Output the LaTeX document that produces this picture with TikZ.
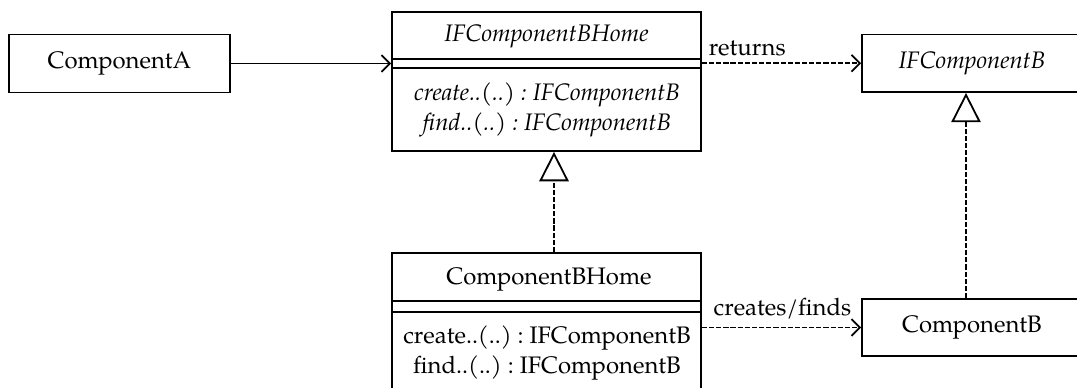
\documentclass[tikz,border=0pt]{standalone}
\usepackage{fontspec}
\setmainfont{TeX Gyre Pagella}
\usetikzlibrary{arrows.meta,calc}
\frenchspacing

\tikzset{
  box/.style={draw, line width=0.7pt, rectangle, inner sep=0pt},
  divider/.style={line width=0.7pt},
  label/.style={font=\fontsize{9.2}{11.4}\selectfont, inner sep=0pt},
  ops/.style={font=\fontsize{9.2}{11.4}\selectfont, align=center, inner sep=0pt},
  assoc/.style={line width=0.7pt, -{Straight Barb[length=3.2pt,width=6.5pt]}},
  dep/.style={assoc, dash pattern=on 2pt off 0.75pt},
  realize/.style={line width=0.7pt, dash pattern=on 2pt off 0.75pt,
    -{Triangle[open,length=11.3pt,width=11.3pt,fill=white]}},
}

\begin{document}
\begin{tikzpicture}[x=0.385pt, y=-0.385pt]
  \useasboundingbox (0,0) rectangle (1077,387);
  \clip (0,0) rectangle (1077,387);

  % plain classes
  \node[box, minimum width=85.09pt, minimum height=22.33pt, label] (compA) at (119.5,63.5) {ComponentA};
  \node[box, minimum width=84.7pt, minimum height=22.1pt, label] (ifb) at (972,63.25) {\itshape IFComponentB};
  \node[box, minimum width=84.7pt, minimum height=21.9pt, label] (compB) at (972,327.5) {ComponentB};

  % interface IFComponentBHome: name / attributes / operations
  \node[box, minimum width=118.97pt, minimum height=53.5pt] (home) at (546.5,81.5) {};
  \draw[divider] ($(home.north west)+(0,48)$) -- ($(home.north east)+(0,48)$);
  \draw[divider] ($(home.north west)+(0,57)$) -- ($(home.north east)+(0,57)$);
  \node[label] (homename) at (546.5,36) {\itshape IFComponentBHome};
  \node[ops] (homeops) at (547,110) {\itshape create..(..) : IFComponentB\\\itshape find..(..) : IFComponentB};

  % class ComponentBHome: name / attributes / operations
  \node[box, minimum width=118.97pt, minimum height=56.6pt] (bhome) at (546.5,326.5) {};
  \draw[divider] ($(bhome.north west)+(0,49)$) -- ($(bhome.north east)+(0,49)$);
  \draw[divider] ($(bhome.north west)+(0,60)$) -- ($(bhome.north east)+(0,60)$);
  \node[label] (bhomename) at (549,279) {ComponentBHome};
  \node[ops] (bhomeops) at (547,353) {create..(..) : IFComponentB\\find..(..) : IFComponentB};

  % realization lines sit slightly right of the box centres
  \coordinate (rx1) at (554,0);
  \coordinate (rx2) at (966,0);

  % connectors
  \draw[assoc] (compA.east) -- (compA.east -| home.west);
  \draw[dep] (home.east |- ifb) -- (ifb.west)
    node[label, pos=0, anchor=base west, xshift=2.3pt, yshift=3.1pt] (returns) {returns};
  \draw[dep] (bhome.east |- compB) -- (compB.west)
    node[label, pos=0, anchor=base west, xshift=4.2pt, yshift=4.6pt] (creates) {creates/finds};
  \draw[realize] (bhome.north -| rx1) -- (home.south -| rx1);
  \draw[realize] (compB.north -| rx2) -- (ifb.south -| rx2);
\end{tikzpicture}
\end{document}
